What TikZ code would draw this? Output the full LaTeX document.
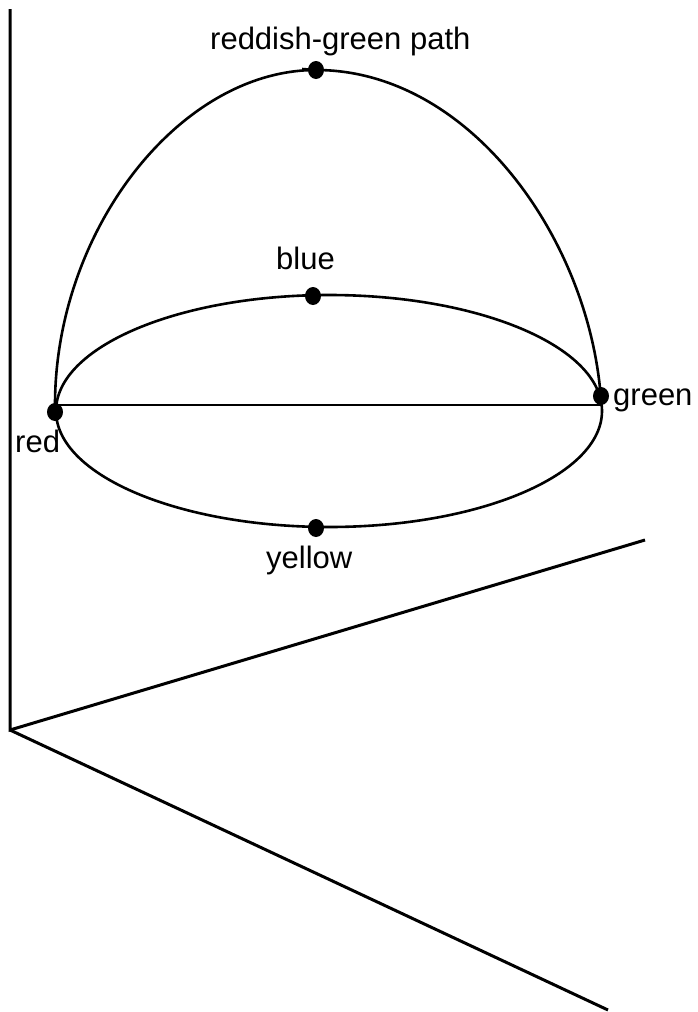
\documentclass[tikz,border=0pt]{standalone}
\usepackage{fontspec}
\setmainfont{Liberation Sans}
\usetikzlibrary{shapes.geometric}
\begin{document}
\begin{tikzpicture}[x=1pt,y=-1pt,
  axisline/.style={line width=3pt},
  curveline/.style={line width=2.6pt},
  dotmark/.style={ellipse,fill=black,inner sep=0pt,minimum width=16pt,minimum height=18pt},
  lbl/.style={anchor=base west,inner sep=0pt,font=\fontsize{31pt}{36pt}\selectfont}]
\useasboundingbox (0,0) rectangle (697,1012);
% axes
\coordinate (atop) at (10,9);
\coordinate (origin) at (10,730);
\coordinate (aright) at (645,540);
\coordinate (adown) at (608,1010);
\draw[axisline] (atop) -- (origin) -- (aright);
\draw[axisline] (origin) -- (adown);
% curve points
\coordinate (L) at (56,405);
\coordinate (R) at (601,405);
\coordinate (E) at (329,411);
\coordinate (apex) at (316,70);
\coordinate (tick) at (302,69);
% ellipse
\draw[curveline] (E) ellipse [x radius=273, y radius=116];
% horizontal chord
\draw[curveline] (L) -- (R);
% dome
\draw[curveline] (55,405) .. controls (55,230) and (180,70) .. (apex)
  .. controls (470,70) and (590,240) .. (601,400);
\draw[curveline] (tick) -- (apex);
% dots
\node[dotmark] (red) at (55,412) {};
\node[dotmark] (green) at (601,396) {};
\node[dotmark] (blue) at (313,296) {};
\node[dotmark] (yellow) at (316,528) {};
\node[dotmark] (top) at (316,70) {};
% labels
\node[lbl] (ltop) at (210,49) {reddish-green path};
\node[lbl] (lblue) at (276,269) {blue};
\node[lbl] (lyellow) at (266,568) {yellow};
\node[lbl] (lred) at (15,452) {red};
\node[lbl] (lgreen) at (613,405) {green};
\end{tikzpicture}
\end{document}
